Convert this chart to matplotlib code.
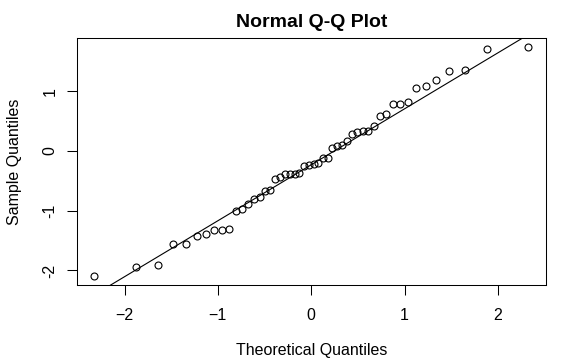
import numpy as np
import matplotlib
matplotlib.use("Agg")
import matplotlib.pyplot as plt
from statistics import NormalDist

# sorted sample values (n = 50)
sample = [-2.09, -1.95, -1.90, -1.565, -1.555, -1.42, -1.39, -1.33, -1.32, -1.30,
          -1.00, -0.97, -0.885, -0.80, -0.775, -0.67, -0.66, -0.47, -0.44, -0.39,
          -0.387, -0.384, -0.37, -0.26, -0.235, -0.215, -0.20, -0.12, -0.115, 0.04,
          0.075, 0.105, 0.165, 0.29, 0.315, 0.33, 0.335, 0.42, 0.59, 0.61,
          0.78, 0.79, 0.82, 1.06, 1.08, 1.19, 1.33, 1.36, 1.71, 1.73]
x_ticks = [-2, -1, 0, 1, 2]
y_ticks = [-2, -1, 0, 1]

y = np.array(sample)
n = len(y)
nd = NormalDist()
# R's ppoints for n > 10
theo = np.array([nd.inv_cdf((i - 0.5) / n) for i in range(1, n + 1)])

# qqline through the first and third quartiles
q1, q3 = np.quantile(y, [0.25, 0.75])
z1, z3 = nd.inv_cdf(0.25), nd.inv_cdf(0.75)
slope = (q3 - q1) / (z3 - z1)
intercept = q1 - slope * z1

plt.rcParams["font.family"] = ["Liberation Sans", "DejaVu Sans"]

fig = plt.figure(figsize=(5.63, 3.62), dpi=100)
ax = fig.add_axes([0.1362, 0.2127, 0.8331, 0.6815])

ax.plot(theo, y, "o", mfc="none", mec="black", ms=5, mew=0.8)

xr = theo.max() - theo.min()
yr = y.max() - y.min()
ax.set_xlim(theo.min() - 0.04 * xr, theo.max() + 0.04 * xr)
ax.set_ylim(y.min() - 0.04 * yr, y.max() + 0.04 * yr)

xs = np.array(ax.get_xlim())
ax.plot(xs, intercept + slope * xs, color="black", lw=0.8)

ax.set_xticks(x_ticks)
ax.set_yticks(y_ticks)
ax.set_yticklabels([str(t) for t in y_ticks], rotation=90, va="center")
ax.tick_params(axis="both", direction="out", length=7.3, width=0.75,
               labelsize=11.5, color="black")
ax.tick_params(axis="x", pad=9)
ax.tick_params(axis="y", pad=6.4)
for s in ax.spines.values():
    s.set_linewidth(0.75)

ax.set_xlabel("Theoretical Quantiles", fontsize=11.5, labelpad=15)
ax.set_ylabel("Sample Quantiles", fontsize=11.5, labelpad=15)
ax.set_title("Normal Q-Q Plot", fontsize=14, fontweight="bold", pad=8.3)

fig.savefig("out.png", dpi=100)
